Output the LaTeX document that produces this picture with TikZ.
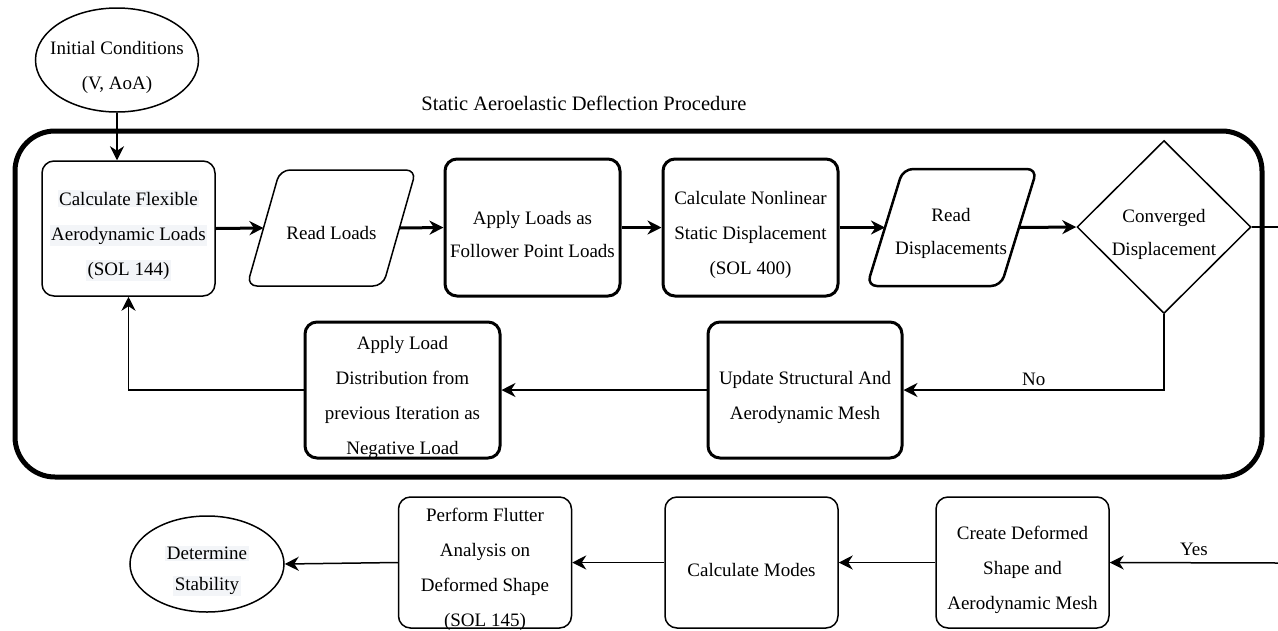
\documentclass[tikz,border=0pt]{standalone}
\usepackage{fontspec}
\setmainfont{Liberation Serif}
\usetikzlibrary{shapes.geometric,arrows.meta}
\definecolor{hlgray}{HTML}{F3F5F8}
\newcommand\hlbg[1]{{\setlength{\fboxsep}{1.5pt}\colorbox{hlgray}{#1}}}
\tikzset{
  lbl/.style={font=\fontsize{19}{35}\selectfont, align=center, inner sep=0pt},
  t/.style={label={[lbl, yshift=-7pt]center:{#1}}},
  box/.style={draw, inner sep=0pt, rounded corners=12pt, line width=1.5pt},
  tbox/.style={box, line width=3pt},
  shp/.style={draw, inner sep=0pt, line width=1.5pt},
  arr/.style={-{Stealth[length=14pt,width=14pt,inset=4.5pt]}, line width=1.5pt},
  tarr/.style={-{Stealth[length=14pt,width=14pt,inset=4.5pt]}, line width=3pt},
}
\begin{document}
\begin{tikzpicture}[x=1pt,y=-1pt]
\useasboundingbox (0,0) rectangle (1278,630);
% frame
\node[draw, line width=5pt, rounded corners=40pt, minimum width=1247pt, minimum height=346pt, inner sep=0pt] (frame) at (638.5,304) {};
\node[lbl, font=\fontsize{20.5}{24}\selectfont] (title) at (584,103) {Static Aeroelastic Deflection Procedure};
% initial conditions
\node[shp, ellipse, minimum width=163pt, minimum height=104pt, t={Initial Conditions\\(V, AoA)}] (init) at (117,60) {};
% top row
\node[box, minimum width=173pt, minimum height=135pt,
  t={\hlbg{Calculate Flexible}\\\hlbg{Aerodynamic Loads}\\\hlbg{(SOL 144)}}] (calc) at (128.5,228.5) {};
% Read Loads parallelogram
\coordinate (rl-bl) at (247,286);
\coordinate (rl-tl) at (280,170);
\coordinate (rl-tr) at (416,170);
\coordinate (rl-br) at (383,286);
\coordinate (rl-w) at (263.5,228);
\coordinate (rl-e) at (399.5,228);
\draw[line width=1.5pt, rounded corners=10pt] (rl-bl) -- (rl-tl) -- (rl-tr) -- (rl-br) -- cycle;
\node[lbl] (rl) at (331.5,233) {Read Loads};
\node[tbox, minimum width=175pt, minimum height=137pt, t={Apply Loads as\\[-2pt]Follower Point Loads}] (apply) at (532.5,227.5) {};
\node[tbox, minimum width=175pt, minimum height=137pt, t={Calculate Nonlinear\\Static Displacement\\(SOL 400)}] (nonlin) at (750.5,227.5) {};
% Read Displacements parallelogram
\coordinate (rd-bl) at (867,286);
\coordinate (rd-tl) at (903,169);
\coordinate (rd-tr) at (1037,169);
\coordinate (rd-br) at (1001,286);
\coordinate (rd-w) at (885,227.5);
\coordinate (rd-e) at (1019,227.5);
\draw[line width=2.5pt, rounded corners=10pt] (rd-bl) -- (rd-tl) -- (rd-tr) -- (rd-br) -- cycle;
\node[lbl] (rd) at (951,233) {Read\\[-2pt]Displacements};
% decision
\node[shp, diamond, minimum width=174pt, minimum height=173pt, t={Converged\\[-2pt]Displacement}] (conv) at (1164,227) {};
% middle row
\node[tbox, minimum width=194pt, minimum height=136pt, t={Update Structural And\\Aerodynamic Mesh}] (update) at (805,390) {};
\node[tbox, minimum width=195pt, minimum height=136pt, t={Apply Load\\Distribution from\\previous Iteration as\\Negative Load}] (dist) at (402.5,390) {};
% bottom row
\node[shp, ellipse, minimum width=154pt, minimum height=96pt, t={\hlbg{Determine}\\[-4pt]\hlbg{Stability}}] (stab) at (207,564) {};
\node[box, minimum width=173pt, minimum height=131pt, t={Perform Flutter\\Analysis on\\Deformed Shape\\(SOL 145)}] (flutter) at (485,562.5) {};
\node[box, minimum width=173pt, minimum height=131pt, t={Calculate Modes}] (modes) at (751.5,562.5) {};
\node[box, minimum width=173pt, minimum height=131pt, t={Create Deformed\\Shape and\\Aerodynamic Mesh}] (create) at (1022.5,562.5) {};
% connectors
\coordinate (exit) at (1278,227);
\coordinate (yesin) at (1278,563);
\draw[arr] (init.south) -- (init.south |- calc.north);
\draw[tarr] (calc.east) -- (rl-w);
\draw[tarr] (rl-e) -- (apply.west);
\draw[tarr] (apply.east) -- (nonlin.west);
\draw[tarr] (nonlin.east) -- (rd-w);
\draw[tarr] (rd-e) -- (conv.west);
\draw[line width=1.5pt] (conv.east) -- (exit);
\draw[arr] (conv.south) |- node[pos=0.75, above, lbl, inner sep=4pt] {No} (update.east);
\draw[arr] (update.west) -- (dist.east);
\draw[arr] (dist.west) -| (calc.south);
\draw[arr] (yesin) -- node[above, lbl, inner sep=6pt] {Yes} (create.east);
\draw[arr] (create.west) -- (modes.east);
\draw[arr] (modes.west) -- (flutter.east);
\draw[arr] (flutter.west) -- (stab.east);
\end{tikzpicture}
\end{document}
